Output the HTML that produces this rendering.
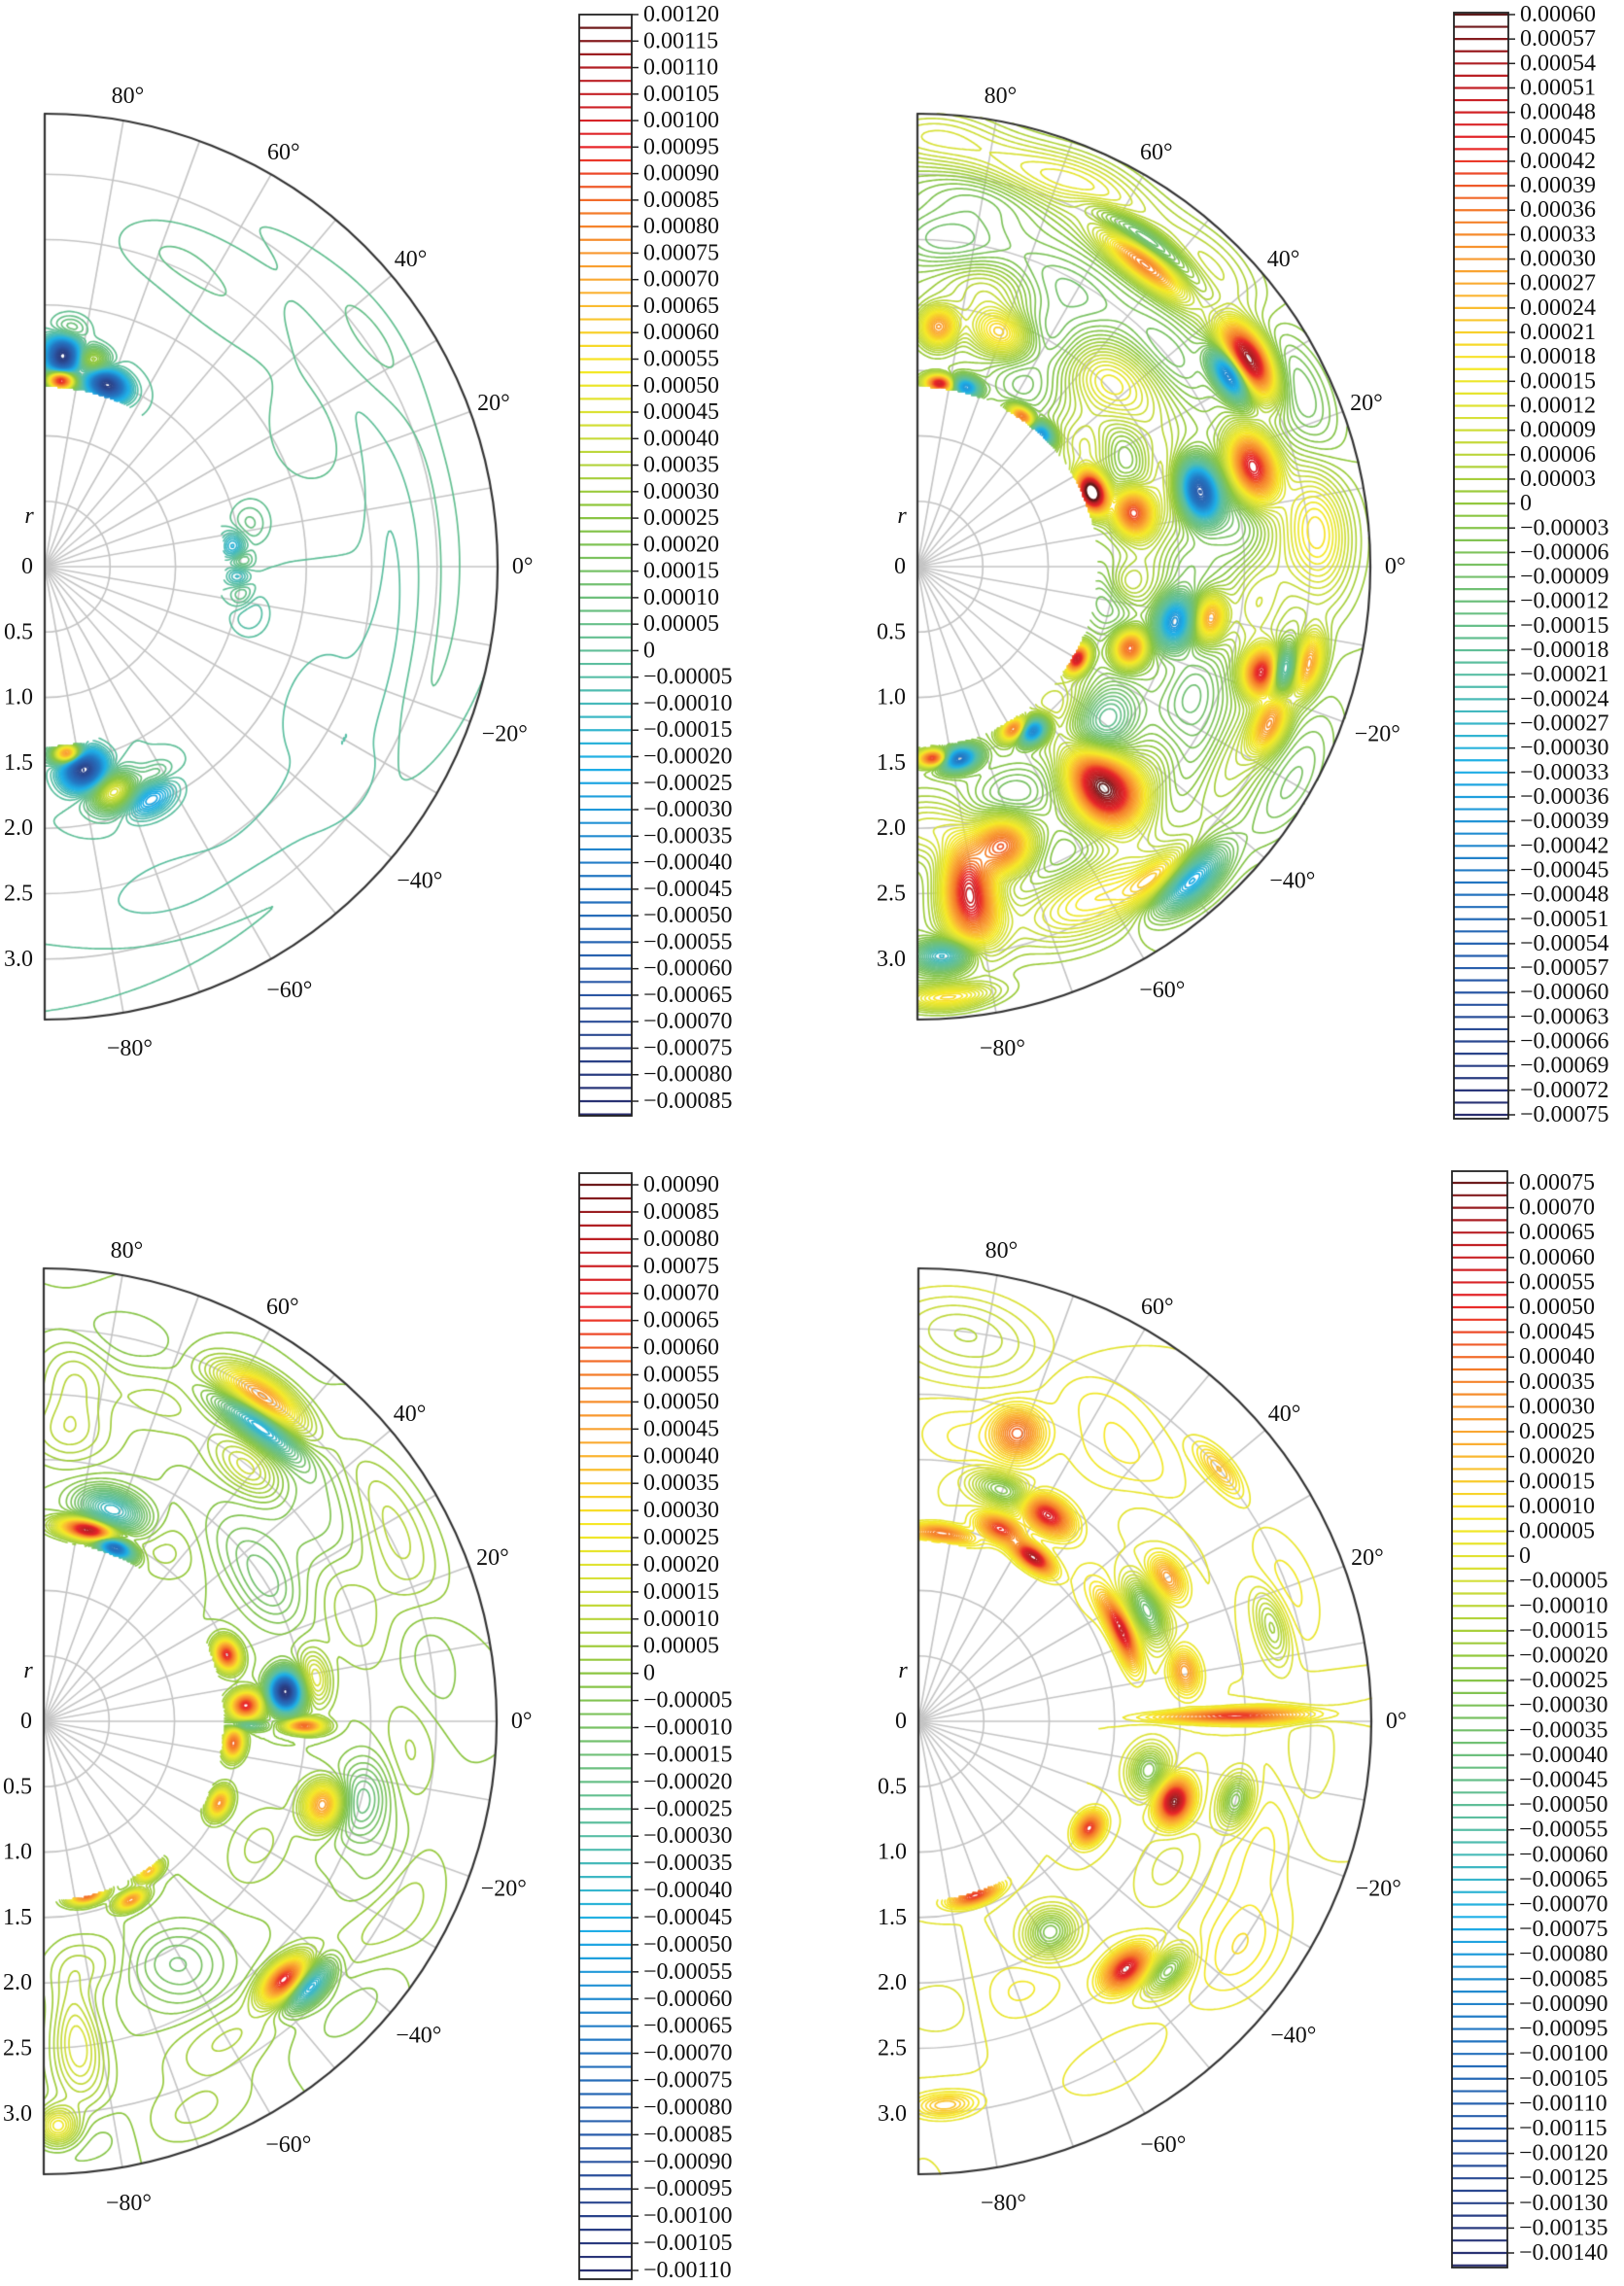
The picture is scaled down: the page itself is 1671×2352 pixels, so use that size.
<!DOCTYPE html>
<html><head><meta charset="utf-8">
<style>
html,body{margin:0;padding:0;background:#fff;}
#wrap{position:relative;width:1671px;height:2352px;overflow:hidden;background:#fff;}
canvas,svg{position:absolute;left:0;top:0;}
text{font-family:"Liberation Serif","DejaVu Serif",serif;font-size:24px;fill:#111;}
</style></head>
<body>
<div id="wrap">
<canvas id="cv" width="1671" height="2352"></canvas>
<svg id="ov" width="1671" height="2352"></svg>
</div>
<script>
// ---------- data: main field features (theta deg, r, amplitude, width r, width theta) ----------
const p1Theta=[85,85,71,77,84,-83,-79,-73,-66,-62,6,2,-3,-8,12,-13,25,-25,50,-50,0,-12,58];
const p1R=[1.62,1.43,1.47,1.62,1.8,1.44,1.58,1.8,1.95,1.8,1.45,1.5,1.48,1.52,1.6,1.6,2.2,2.3,2.6,2.8,3.1,2.65,2.5];
const p1Amp=[-0.00085,0.0011,-0.0008,0.00035,0.0002,0.0009,-0.0008,0.0005,-0.0003,0.0001,-0.0002,0.00015,-0.00015,0.0001,0.00008,-0.00008,0.00003,-0.00003,0.00002,-0.00002,0.00003,-0.00003,0.00003];
const p1Sr=[0.1,0.05,0.07,0.07,0.08,0.05,0.1,0.1,0.08,0.06,0.06,0.06,0.06,0.06,0.1,0.1,0.3,0.3,0.5,0.4,0.12,0.1,0.2];
const p1St=[3,3,4,3,3,3,4,4,4,3,3,2,2,3,4,4,10,12,15,15,45,35,10];

const p2Theta=[32,31.5,16.5,15,23,14,83,75,47,55,53,55,85,70,-12,-10,-21,-30,-55,-59,-85,-78,-17,-16,-14,-50,-24,-81,-73,-49,-52,-86,-86,40,62,5,-35,-65,0,75,28,-5,-40];
const p2R=[2.99,2.8,2.67,2.23,1.45,1.7,1.41,1.42,1.39,1.4,2.89,3.05,1.84,1.9,2.01,2.27,1.74,1.41,1.53,1.45,1.47,1.5,2.77,2.9,3.08,2.2,2.95,2.55,2.23,3.18,3.0,2.98,3.3,2.2,2.4,3.0,2.6,2.8,2.0,3.1,1.8,1.6,1.9];
const p2Amp=[0.0006,-0.0005,0.0005,-0.0006,0.0007,0.0004,0.0005,-0.0004,-0.0004,0.0004,0.00035,-0.0002,0.0003,0.00025,-0.0004,0.0003,0.0004,0.0005,-0.0005,0.0004,0.0005,-0.0005,0.0005,-0.0004,0.0003,0.0006,0.0003,0.0005,0.0004,-0.00035,0.0002,-0.0003,0.0002,0.00008,-0.0001,0.0001,-0.0001,0.0001,-0.00008,0.0001,-0.0001,0.0001,-0.0001];
const p2Sr=[0.1,0.07,0.12,0.1,0.07,0.1,0.04,0.05,0.05,0.04,0.08,0.06,0.1,0.12,0.1,0.08,0.08,0.05,0.06,0.05,0.04,0.06,0.1,0.07,0.07,0.22,0.08,0.25,0.15,0.1,0.08,0.08,0.06,0.2,0.2,0.2,0.2,0.2,0.2,0.15,0.12,0.1,0.15];
const p2St=[4,3,4,4,4,4,3,3,3,3,5,6,3,5,4,3,3,3,3,3,3,4,2.5,2.5,3,4,3,3,4,4,4,3,4,8,10,6,8,8,5,8,6,4,6];

const p3Theta=[56,54,51,76,68,72,20,7,4.5,-1,-1,9,-6.6,-25,-16.6,-76,-64,-55,-47,-45,-14,-84,-88,40,25,-30,-60,85,30];
const p3R=[2.99,2.8,2.49,1.5,1.44,1.7,1.49,1.86,1.55,1.99,1.55,2.1,1.46,1.48,2.23,1.37,1.52,1.4,2.7,2.87,2.5,2.5,3.1,2.6,3.0,3.0,2.2,2.6,2.0];
const p3Amp=[0.0005,-0.0005,0.0002,0.0009,-0.0009,-0.0004,0.0007,-0.0011,0.0007,0.0006,-0.0003,0.0002,0.0006,0.0005,0.0005,0.0006,0.0005,0.0004,0.0007,-0.0005,-0.0002,0.0002,0.0003,-0.00008,0.0001,0.0001,-0.0001,0.0001,-0.0001];
const p3Sr=[0.1,0.07,0.12,0.05,0.05,0.1,0.06,0.08,0.08,0.1,0.1,0.08,0.05,0.05,0.1,0.04,0.04,0.04,0.08,0.07,0.15,0.3,0.1,0.3,0.2,0.25,0.2,0.3,0.15];
const p3St=[5,5,5,6,4,6,3,3,2.5,1,1,4,3,3,3,4,3,3,3,3,5,3,2,10,8,8,6,4,6];

const p4Theta=[58,67,71,70,55,24,26,10.6,30,1,-17.4,-12,-32,-72,-50,-45,-14,-86,83,40,15,-58,-35,50,82];
const p4R=[1.86,1.6,2.33,1.88,1.53,1.7,1.94,2.07,2.2,2.42,2.05,1.8,1.54,1.4,2.47,2.7,2.5,2.94,1.45,3.0,2.8,1.9,3.0,2.5,2.9];
const p4Amp=[0.0006,0.0005,0.0004,-0.0003,0.0007,0.0006,-0.0004,0.0003,0.0003,0.0005,0.00075,-0.0003,0.0005,0.0005,0.0006,-0.0003,-0.0003,0.0002,0.0004,0.0002,-0.0002,-0.0003,0.0001,0.0001,-0.0001];
const p4Sr=[0.08,0.06,0.12,0.08,0.05,0.05,0.08,0.07,0.07,0.35,0.08,0.1,0.06,0.04,0.08,0.08,0.08,0.06,0.04,0.06,0.08,0.12,0.2,0.2,0.2];
const p4St=[4,4,3,5,4,6,5,3,3,0.8,3,4,3,5,3,3,3,3,6,3,4,4,6,8,8];

// weak background structures (theta deg, r, amplitude)
const p1BgTheta=[35,-35,70,-70];
const p1BgR=[3.0,3.0,2.6,2.6];
const p1BgAmp=[0.00003,-0.00003,0.00003,-0.00003];
const p2BgTheta=[75,80,65,62,45,40,45,25,5,8,0,-5,-25,-32,-38,-42,-60,-68,-65,-88,-30,85,88,35,-10,-45,60,20];
const p2BgR=[2.2,2.9,3.2,2.0,2.0,2.5,3.2,3.2,3.1,2.5,1.8,2.6,2.3,2.8,1.8,2.4,2.9,1.9,2.5,2.0,3.3,2.5,3.3,1.6,1.5,1.5,1.6,2.0];
const p2BgAmp=[0.0001,-0.00008,0.0001,-0.0001,0.00012,-0.0001,0.00008,-0.0001,0.0001,-0.0001,0.00008,0.0001,-0.0001,0.0001,-0.0001,0.00008,0.0001,-0.0001,-0.00008,0.0001,-0.00008,-0.0001,0.0001,0.0001,-0.0001,0.0001,-0.00008,0.0001];
const p3BgTheta=[85,80,70,40,35,20,10,-5,-25,-30,-60,-65,-80,-85,-70,55,-40];
const p3BgR=[2.2,3.0,2.6,2.0,3.1,2.5,3.0,2.8,2.8,1.9,2.8,2.0,1.9,3.2,3.2,1.6,3.2];
const p3BgAmp=[0.00008,-0.00006,0.00006,-0.00008,0.00006,0.00008,-0.00006,0.00006,-0.00008,0.00006,0.00008,-0.00006,0.00008,-0.00006,0.00006,0.00006,-0.00006];
const p4BgTheta=[80,85,60,45,20,-5,-20,-30,-60,-70,-85,35];
const p4BgR=[2.2,3.1,2.8,2.4,3.0,3.0,2.8,2.2,3.0,2.2,2.2,1.7];
const p4BgAmp=[0.00006,-0.00005,0.00005,-0.00006,0.00006,-0.00005,0.00006,-0.00006,0.00005,0.00006,-0.00005,0.00005];

// colorbar ranges and label steps
const cbMax=[0.0012,0.0006,0.0009,0.00075];
const cbMin=[-0.00085,-0.00075,-0.0011,-0.0014];
const cbLabelStep=[0.00005,0.00003,0.00005,0.00005];

// ---------- layout ----------
const PX=134.6, RMAX=3.45, RIN=1.37, RPIX=466, BG_SR=0.16, BG_ST=7;
const panels=[
 {cx:46,cy:583,th:p1Theta,r:p1R,a:p1Amp,sr:p1Sr,st:p1St,bt:p1BgTheta,br:p1BgR,ba:p1BgAmp,cb:{x0:596,x1:650,yT:15,yB:1133,eT:15,eB:1148}},
 {cx:944,cy:583,th:p2Theta,r:p2R,a:p2Amp,sr:p2Sr,st:p2St,bt:p2BgTheta,br:p2BgR,ba:p2BgAmp,cb:{x0:1496,x1:1552,yT:15,yB:1147,eT:13,eB:1151}},
 {cx:45,cy:1771,th:p3Theta,r:p3R,a:p3Amp,sr:p3Sr,st:p3St,bt:p3BgTheta,br:p3BgR,ba:p3BgAmp,cb:{x0:596,x1:650,yT:1219,yB:2336,eT:1207,eB:2345}},
 {cx:945,cy:1771,th:p4Theta,r:p4R,a:p4Amp,sr:p4Sr,st:p4St,bt:p4BgTheta,br:p4BgR,ba:p4BgAmp,cb:{x0:1494,x1:1551,yT:1217,yB:2318,eT:1205,eB:2333}}
];

const stops=[[0,[42,46,110]],[0.12,[43,90,168]],[0.22,[36,121,196]],[0.32,[31,176,232]],[0.40,[90,191,166]],[0.47,[111,192,124]],[0.55,[141,198,63]],[0.63,[214,224,58]],[0.68,[246,233,38]],[0.75,[251,176,52]],[0.82,[244,123,42]],[0.88,[232,38,42]],[0.95,[181,31,36]],[1,[90,26,26]]];
function cmap(t){t=Math.max(0,Math.min(1,t));for(let i=1;i<stops.length;i++){if(t<=stops[i][0]){const a=stops[i-1],b=stops[i];const f=(t-a[0])/(b[0]-a[0]);const c=a[1].map((v,k)=>Math.round(v+(b[1][k]-v)*f));return `rgb(${c[0]},${c[1]},${c[2]})`;}}return 'rgb(90,26,26)';}

const ctx=document.getElementById('cv').getContext('2d');
const NS='http://www.w3.org/2000/svg';
const svg=document.getElementById('ov');
function mk(tag,attrs,parent){const e=document.createElementNS(NS,tag);for(const k in attrs)e.setAttribute(k,attrs[k]);(parent||svg).appendChild(e);return e;}
function fmt(v){if(Math.abs(v)<1e-12)return '0';return (v<0?'\u2212':'')+Math.abs(v).toFixed(5);}

panels.forEach((p,pi)=>{
  const {cx,cy}=p, cb=p.cb;
  const vTop=cbMax[pi], vBot=cbMin[pi], lstep=cbLabelStep[pi], step=lstep/2;
  const yOf=v=>cb.yT+(vTop-v)/(vTop-vBot)*(cb.yB-cb.yT);
  const vOf=y=>vTop-(y-cb.yT)/(cb.yB-cb.yT)*(vTop-vBot);
  const vmax=vOf(cb.eT), vmin=vOf(cb.eB);
  const col=v=>cmap((v-vmin)/(vmax-vmin));
  // grid
  ctx.strokeStyle='#c4c4c4';ctx.lineWidth=1.6;
  for(let rr=0.5;rr<=3.01;rr+=0.5){ctx.beginPath();ctx.arc(cx,cy,rr*PX,-Math.PI/2,Math.PI/2);ctx.stroke();}
  for(let t=-80;t<=80;t+=10){const a=t*Math.PI/180;ctx.beginPath();ctx.moveTo(cx,cy);ctx.lineTo(cx+RPIX*Math.cos(a),cy-RPIX*Math.sin(a));ctx.stroke();}
  // field
  const s=2, nx=Math.ceil(RPIX/s)+1, ny=Math.ceil(2*RPIX/s)+1;
  const F=new Float64Array(nx*ny);
  const n=p.th.length, nb=p.bt.length;
  for(let j=0;j<ny;j++){for(let i=0;i<nx;i++){
    const dx=i*s, dy=j*s-RPIX;
    const rr=Math.sqrt(dx*dx+dy*dy)/PX;
    if(rr<RIN||rr>RMAX+0.02){F[j*nx+i]=NaN;continue;}
    const tt=Math.atan2(-dy,dx)*180/Math.PI;
    let v=0;
    for(let k=0;k<n;k++){const u=(rr-p.r[k])/p.sr[k], w=(tt-p.th[k])/p.st[k];const e=0.5*(u*u+w*w);if(e<30)v+=p.a[k]*Math.exp(-e);}
    for(let k=0;k<nb;k++){const u=(rr-p.br[k])/BG_SR, w=(tt-p.bt[k])/BG_ST;const e=0.5*(u*u+w*w);if(e<30)v+=p.ba[k]*Math.exp(-e);}
    v+=1e-9*Math.sin(tt*0.7+rr*3);
    F[j*nx+i]=v;
  }}
  const kMin=Math.ceil(vmin/step), kMax=Math.floor(vmax/step);
  const paths={};
  for(let j=0;j<ny-1;j++){for(let i=0;i<nx-1;i++){
    const v0=F[j*nx+i],v1=F[j*nx+i+1],v2=F[(j+1)*nx+i+1],v3=F[(j+1)*nx+i];
    if(isNaN(v0)||isNaN(v1)||isNaN(v2)||isNaN(v3))continue;
    const lo=Math.min(v0,v1,v2,v3),hi=Math.max(v0,v1,v2,v3);
    let ka=Math.max(kMin,Math.ceil(lo/step)),kb=Math.min(kMax,Math.floor(hi/step));
    if(ka>kb)continue;
    const x=cx+i*s,y=cy-RPIX+j*s;
    for(let k=ka;k<=kb;k++){
      const L=k*step, pts=[];
      if((v0<L)!==(v1<L))pts.push(x+s*(L-v0)/(v1-v0),y);
      if((v1<L)!==(v2<L))pts.push(x+s,y+s*(L-v1)/(v2-v1));
      if((v2<L)!==(v3<L))pts.push(x+s-s*(L-v2)/(v3-v2),y+s);
      if((v3<L)!==(v0<L))pts.push(x,y+s-s*(L-v3)/(v0-v3));
      if(pts.length>=4){(paths[k]=paths[k]||[]).push(pts);}
    }
  }}
  ctx.lineWidth=1.7;ctx.lineCap='round';
  Object.keys(paths).map(Number).sort((a,b)=>Math.abs(a)-Math.abs(b)).forEach(k=>{
    ctx.strokeStyle=col(k*step);ctx.beginPath();
    paths[k].forEach(q=>{ctx.moveTo(q[0],q[1]);ctx.lineTo(q[2],q[3]);if(q.length===8){ctx.moveTo(q[4],q[5]);ctx.lineTo(q[6],q[7]);}});
    ctx.stroke();
  });
  // frame
  ctx.strokeStyle='#333';ctx.lineWidth=2.2;
  ctx.beginPath();ctx.arc(cx,cy,RPIX,-Math.PI/2,Math.PI/2);ctx.stroke();
  ctx.beginPath();ctx.moveTo(cx,cy-RPIX);ctx.lineTo(cx,cy+RPIX);ctx.stroke();

  // angle labels
  for(let t=80;t>=-80;t-=20){
    const a=t*Math.PI/180, rl=RPIX*1.055+(t<0?12:0);
    const el=mk('text',{x:cx+rl*Math.cos(a),y:cy-rl*Math.sin(a),'text-anchor':'middle','dominant-baseline':'central'});
    
    
    el.textContent=(t<0?'\u2212':'')+Math.abs(t)+'\u00b0';
  }
  // r labels
  const rt=mk('text',{x:cx-16,y:cy-52,'text-anchor':'middle','font-style':'italic','dominant-baseline':'central'});
  
  
  rt.textContent='r';
  for(let q=0;q<=6;q++){
    const el=mk('text',{x:cx-12,y:cy+q*0.5*PX,'text-anchor':'end','dominant-baseline':'central'});
    
    
    el.textContent=q===0?'0':(q*0.5).toFixed(1);
  }
  // colorbar
  const g=mk('g',{});
  
  
  mk('rect',{x:cb.x0,y:cb.eT,width:cb.x1-cb.x0,height:cb.eB-cb.eT,fill:'#fff',stroke:'none'},g);
  for(let k=kMin;k<=kMax;k++){
    const y=yOf(k*step);
    const ln=mk('line',{x1:cb.x0,x2:cb.x1,y1:y,y2:y,stroke:col(k*step),'stroke-width':2.2},g);
    
    
  }
  mk('rect',{x:cb.x0,y:cb.eT,width:cb.x1-cb.x0,height:cb.eB-cb.eT,fill:'none',stroke:'#222','stroke-width':1.8},g);
  const nl=Math.round((vTop-cbMin[pi])/lstep);
  for(let m=0;m<=nl;m++){
    const v=vTop-m*lstep, y=yOf(v);
    mk('line',{x1:cb.x1,x2:cb.x1+7,y1:y,y2:y,stroke:'#222','stroke-width':1.5},g);
    const t=mk('text',{x:cb.x1+12,y:y,'dominant-baseline':'central'},g);
    
    
    t.textContent=fmt(v);
  }
});
</script>
</body></html>
